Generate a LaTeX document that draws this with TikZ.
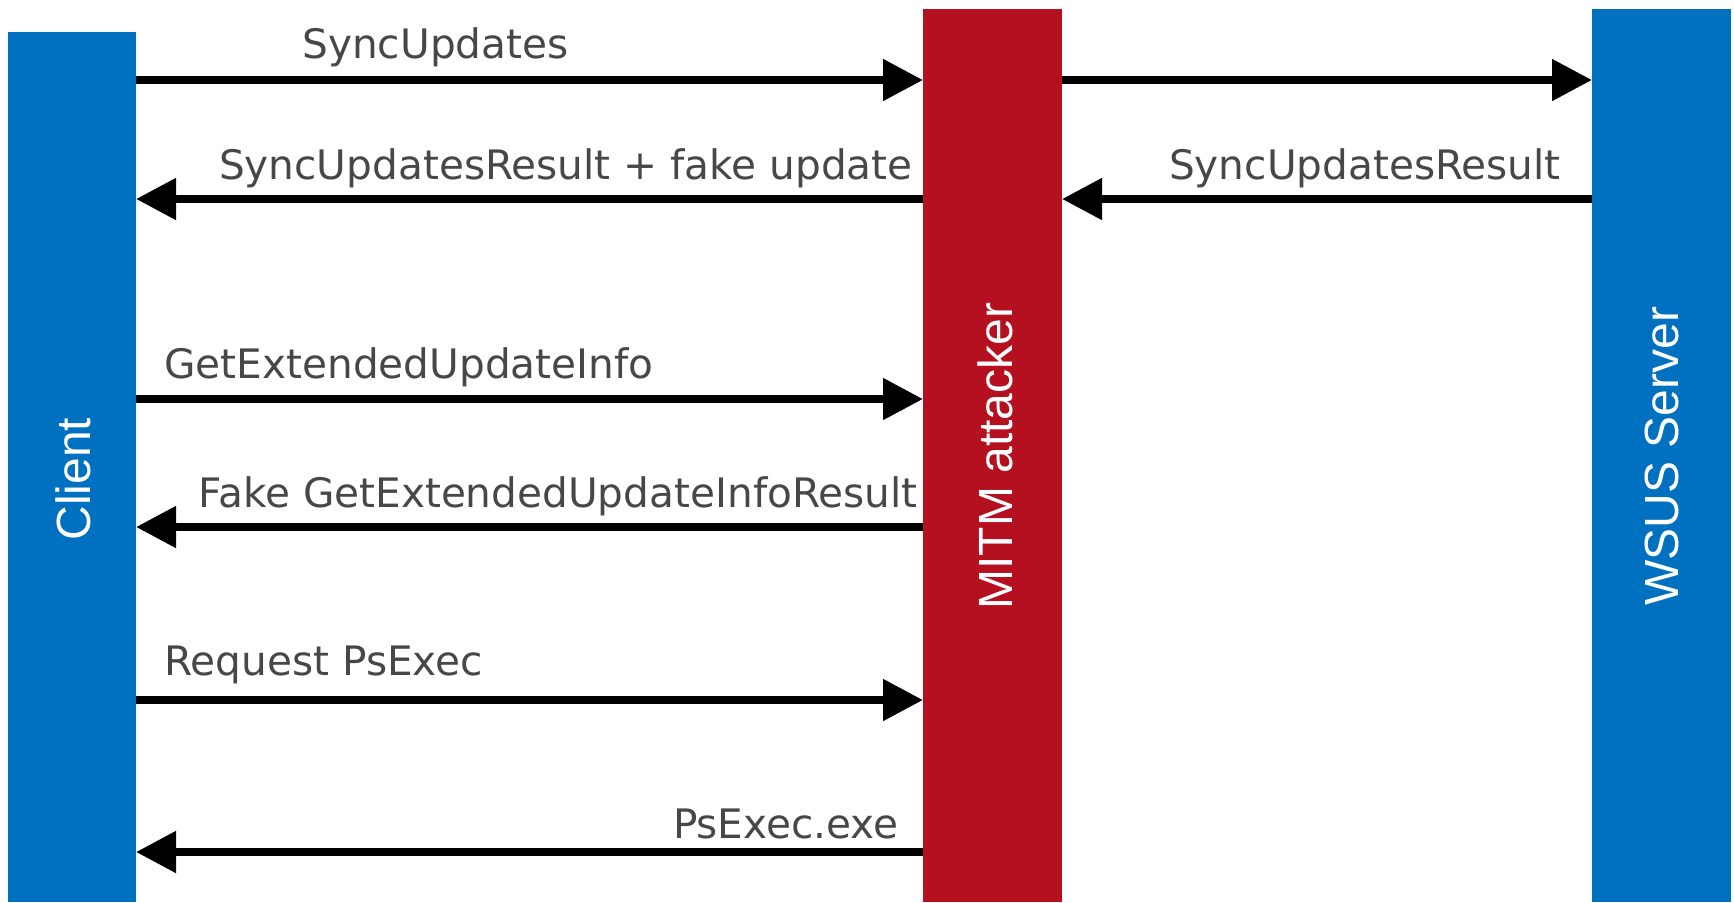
\documentclass[tikz,border=0pt]{standalone}
\usepackage{fontspec}
\setmainfont{DejaVu Sans}
\newfontfamily\barfont{Liberation Sans}
\usetikzlibrary{arrows.meta}
\definecolor{cblue}{HTML}{0070C0}
\definecolor{cred}{HTML}{B5101F}
\definecolor{cgray}{HTML}{474747}
\tikzset{
  bar/.style={inner sep=0pt,outer sep=0pt,draw=none},
  barlbl/.style={rotate=90,text=white,font=\barfont\fontsize{24}{28}\selectfont,inner sep=0pt},
  msg/.style={-{Triangle[length=20pt,width=20pt]},line width=4pt,draw=black},
  lbl/.style={text=cgray,font=\fontsize{20.3}{24}\selectfont,inner sep=0pt},
}
\begin{document}
\begin{tikzpicture}[x=0.5pt,y=-0.5pt]
  \useasboundingbox (0,0) rectangle (1734,902);
  % participants
  \node[bar,fill=cblue,minimum width=64pt,minimum height=435pt] (client) at (72,467) {};
  \node[bar,fill=cred,minimum width=69.5pt,minimum height=446.5pt] (mitm) at (992.5,455.5) {};
  \node[bar,fill=cblue,minimum width=69.5pt,minimum height=446.5pt] (wsus) at (1661.5,455.5) {};
  \node[barlbl] (clientlbl) at (73,479) {Client};
  \node[barlbl] (mitmlbl) at (995,456) {MITM attacker};
  \node[barlbl] (wsuslbl) at (1662,456) {WSUS Server};
  % message rows
  \coordinate (r1) at (0,80);
  \coordinate (r2) at (0,199);
  \coordinate (r3) at (0,399);
  \coordinate (r4) at (0,527);
  \coordinate (r5) at (0,700);
  \coordinate (r6) at (0,852);
  \draw[msg] (client.east |- r1) -- (mitm.west |- r1);
  \draw[msg] (mitm.east |- r1) -- (wsus.west |- r1);
  \draw[msg] (wsus.west |- r2) -- (mitm.east |- r2);
  \draw[msg] (mitm.west |- r2) -- (client.east |- r2);
  \draw[msg] (client.east |- r3) -- (mitm.west |- r3);
  \draw[msg] (mitm.west |- r4) -- (client.east |- r4);
  \draw[msg] (client.east |- r5) -- (mitm.west |- r5);
  \draw[msg] (mitm.west |- r6) -- (client.east |- r6);
  % labels
  \node[lbl,anchor=base west] (l1) at (302,58) {SyncUpdates};
  \node[lbl,anchor=base east] (l2) at (913,179) {SyncUpdatesResult + fake update};
  \node[lbl,anchor=base east] (l2b) at (1561,179) {SyncUpdatesResult};
  \node[lbl,anchor=base west] (l3) at (164,378) {GetExtendedUpdateInfo};
  \node[lbl,anchor=base east] (l4) at (918,507) {Fake GetExtendedUpdateInfoResult};
  \node[lbl,anchor=base west] (l5) at (164,675) {Request PsExec};
  \node[lbl,anchor=base east] (l6) at (899,838) {PsExec.exe};
\end{tikzpicture}
\end{document}
